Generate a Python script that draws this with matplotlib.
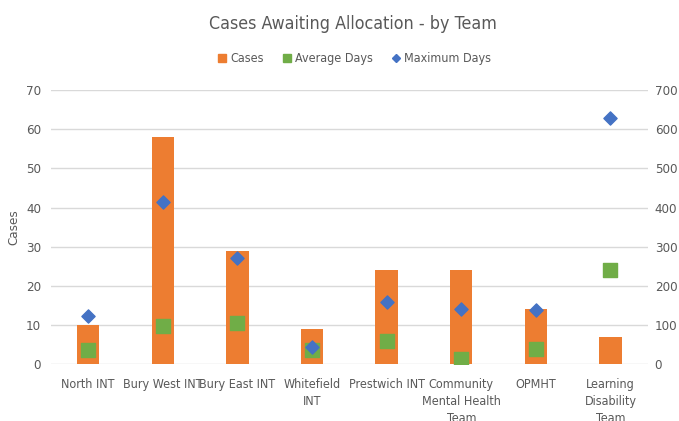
import matplotlib.pyplot as plt
import numpy as np
from matplotlib.lines import Line2D

plt.rcParams['font.family'] = ['DejaVu Sans']
plt.rcParams['font.stretch'] = 'condensed'

teams = ["North INT", "Bury West INT", "Bury East INT", "Whitefield\nINT",
         "Prestwich INT", "Community\nMental Health\nTeam", "OPMHT",
         "Learning\nDisability\nTeam"]
cases = [10, 58, 29, 9, 24, 24, 14, 7]
avg_days = [36, 98, 104, 36, 59, 13, 39, 241]
max_days = [123, 415, 270, 44, 159, 141, 138, 628]

orange = '#ED7D31'
green = '#70AD47'
blue = '#4472C4'
txt = '#595959'
grid = '#D9D9D9'

fig = plt.figure(figsize=(6.79, 4.21), dpi=100)
ax1 = fig.add_axes([0.075, 0.135, 0.879, 0.651])
x = np.arange(len(teams))

ax1.bar(x, cases, width=0.3, color=orange, zorder=2)
ax1.set_ylim(0, 70)
ax1.set_yticks(range(0, 71, 10))
ax1.set_xlim(-0.5, len(teams) - 0.5)
ax1.grid(True, axis='y', color=grid, linewidth=1, zorder=0)
ax1.set_axisbelow(True)
ax1.set_ylabel("Cases", color=txt, fontsize=9.5, labelpad=4)
ax1.set_xticks(x, teams, linespacing=1.4)

ax2 = ax1.twinx()
ax2.set_ylim(0, 700)
ax2.set_yticks(range(0, 701, 100))
ax2.scatter(x, avg_days, marker='s', s=100, color=green, zorder=3)
ax2.scatter(x, max_days, marker='D', s=45, color=blue, zorder=4)

for a in (ax1, ax2):
    for s in a.spines.values():
        s.set_visible(False)
    a.tick_params(length=0, colors=txt, labelsize=9.5)
ax1.tick_params(axis='x', pad=10, labelsize=9)
ax1.tick_params(axis='y', pad=7)
ax2.tick_params(axis='y', pad=5)

fig.suptitle("Cases Awaiting Allocation - by Team", x=0.52, y=0.965,
             fontsize=12.8, color=txt)

handles = [
    Line2D([], [], marker='s', linestyle='none', color=orange, markersize=6),
    Line2D([], [], marker='s', linestyle='none', color=green, markersize=6),
    Line2D([], [], marker='D', linestyle='none', color=blue, markersize=4.5),
]
fig.legend(handles, ["Cases", "Average Days", "Maximum Days"], loc='center',
           bbox_to_anchor=(0.522, 0.86), ncol=3, frameon=False, fontsize=9,
           labelcolor=txt, handlelength=0.7, handletextpad=0.3, columnspacing=1.5)

plt.savefig("out.png", dpi=100)
